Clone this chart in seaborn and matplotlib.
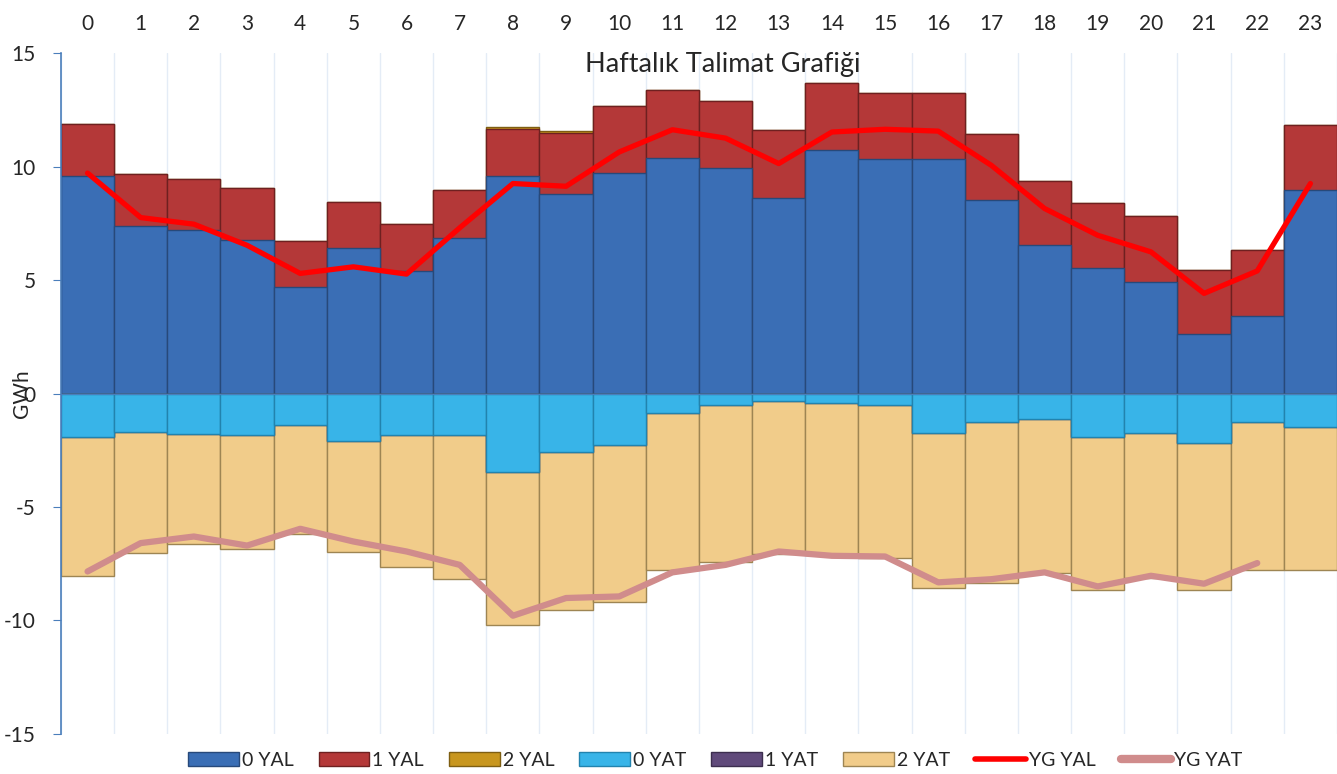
import numpy as np
import pandas as pd
import matplotlib.pyplot as plt
from matplotlib.patches import Patch
from matplotlib.lines import Line2D
import seaborn as sns

hours = list(range(24))
yal0 = [9.57, 7.37, 7.19, 6.75, 4.67, 6.39, 5.40, 6.87, 9.58, 8.81, 9.71, 10.39,
        9.93, 8.61, 10.71, 10.32, 10.33, 8.54, 6.53, 5.53, 4.91, 2.60, 3.42, 8.98]
yal1 = [2.29, 2.29, 2.25, 2.29, 2.05, 2.04, 2.06, 2.08, 2.09, 2.66, 2.94, 2.96,
        2.95, 2.98, 2.95, 2.93, 2.93, 2.91, 2.85, 2.88, 2.90, 2.86, 2.89, 2.86]
yal2 = [0, 0, 0, 0, 0, 0, 0, 0, 0.05, 0.08, 0, 0,
        0, 0, 0, 0, 0, 0, 0, 0, 0, 0, 0, 0]
yat0 = [-1.90, -1.68, -1.78, -1.83, -1.39, -2.08, -1.83, -1.83, -3.48, -2.56, -2.27, -0.84,
        -0.51, -0.32, -0.43, -0.52, -1.72, -1.24, -1.14, -1.90, -1.75, -2.16, -1.24, -1.49]
yat1 = [0] * 24
yat2 = [-6.12, -5.35, -4.87, -5.02, -4.79, -4.91, -5.82, -6.33, -6.73, -6.99, -6.93, -6.93,
        -6.93, -6.74, -6.67, -6.73, -6.85, -7.11, -6.77, -6.74, -6.38, -6.48, -6.53, -6.28]
yg_yal = [9.71, 7.75, 7.46, 6.53, 5.29, 5.58, 5.26, 7.30, 9.25, 9.13, 10.64, 11.62,
          11.25, 10.13, 11.52, 11.64, 11.56, 10.05, 8.15, 6.97, 6.24, 4.41, 5.40, 9.25]
yg_yat = [-7.84, -6.59, -6.30, -6.70, -5.96, -6.52, -6.96, -7.55, -9.79, -9.01, -8.94, -7.88,
          -7.55, -6.96, -7.15, -7.18, -8.32, -8.18, -7.88, -8.50, -8.03, -8.38, -7.47, np.nan]

df = pd.DataFrame({"hour": hours, "yal0": yal0, "yal1": yal1, "yal2": yal2,
                   "yat0": yat0, "yat1": yat1, "yat2": yat2,
                   "yg_yal": yg_yal, "yg_yat": yg_yat})
# cumulative stacks, drawn from the outside in
df["pos1"] = df["yal0"] + df["yal1"]
df["pos2"] = df["pos1"] + df["yal2"]
df["neg1"] = df["yat0"] + df["yat1"]
df["neg2"] = df["neg1"] + df["yat2"]

sns.set_style("white")
plt.rcParams["font.family"] = ["Lato", "DejaVu Sans"]
plt.rcParams["axes.unicode_minus"] = False

axis_col = "#4A7EBB"
colors = {
    "0 YAL": ("#3A6EB5", "#27497A"),
    "1 YAL": ("#B43838", "#6E2020"),
    "2 YAL": ("#C8961E", "#7E5E12"),
    "0 YAT": ("#38B4E8", "#2283AE"),
    "1 YAT": ("#604A7B", "#3C2E4E"),
    "2 YAT": ("#F1CC8A", "#9E8553"),
}

fig = plt.figure(figsize=(13.37, 7.74), dpi=100)
ax = fig.add_axes([0.0456, 0.0517, 0.9544, 0.8798])

layers = [("pos2", "2 YAL"), ("pos1", "1 YAL"), ("yal0", "0 YAL"),
          ("neg2", "2 YAT"), ("neg1", "1 YAT"), ("yat0", "0 YAT")]
for col, name in layers:
    fc, ec = colors[name]
    sns.barplot(data=df, x="hour", y=col, color=fc, edgecolor=ec, linewidth=1,
                width=1, saturation=1, errorbar=None, ax=ax)

sns.lineplot(data=df, x="hour", y="yg_yal", color="#FF0000", lw=3.8, ax=ax)
sns.lineplot(data=df, x="hour", y="yg_yat", color="#D08C8C", lw=4.5, ax=ax)

ax.set_xlim(-0.5, 23.5)
ax.set_ylim(-15, 15)
ax.set_yticks(range(-15, 16, 5))
ax.set_xticks(hours)
ax.set_xticks(np.arange(-0.5, 24, 1), minor=True)
ax.set_xlabel("")
ax.set_ylabel("GWh", fontsize=15)
ax.yaxis.set_label_coords(-0.023, 0.5)

for s in ["top", "right"]:
    ax.spines[s].set_visible(False)
ax.spines["bottom"].set_position(("data", 0))
ax.spines["bottom"].set_color(axis_col)
ax.spines["left"].set_color(axis_col)
ax.spines["left"].set_linewidth(1.2)

ax.tick_params(axis="x", which="major", bottom=True, top=False, labelbottom=False,
               labeltop=True, length=4, color=axis_col, labelsize=15, pad=10)
ax.tick_params(axis="x", which="minor", length=0)
ax.tick_params(axis="y", left=True, length=6, color=axis_col, labelsize=15, pad=12)

ax.set_axisbelow(True)
ax.grid(False)
ax.grid(which="minor", axis="x", color="#E4ECF6", linewidth=1)

ax.text(0.519, 0.972, "Haftalık Talimat Grafiği", transform=ax.transAxes,
        ha="center", va="baseline", fontsize=19.5)

handles = []
for name in ["0 YAL", "1 YAL", "2 YAL", "0 YAT", "1 YAT", "2 YAT"]:
    fc, ec = colors[name]
    handles.append(Patch(facecolor=fc, edgecolor=ec, label=name))
handles.append(Line2D([], [], color="#FF0000", lw=4, label="YG YAL"))
handles.append(Line2D([], [], color="#D08C8C", lw=6, solid_capstyle="round", label="YG YAT"))
fig.legend(handles=handles, loc="center", bbox_to_anchor=(0.535, 0.018), ncol=8,
           frameon=False, fontsize=14, handlelength=2.6, handleheight=0.75,
           handletextpad=0.15, columnspacing=1.3)

fig.savefig("out.png", dpi=100)
